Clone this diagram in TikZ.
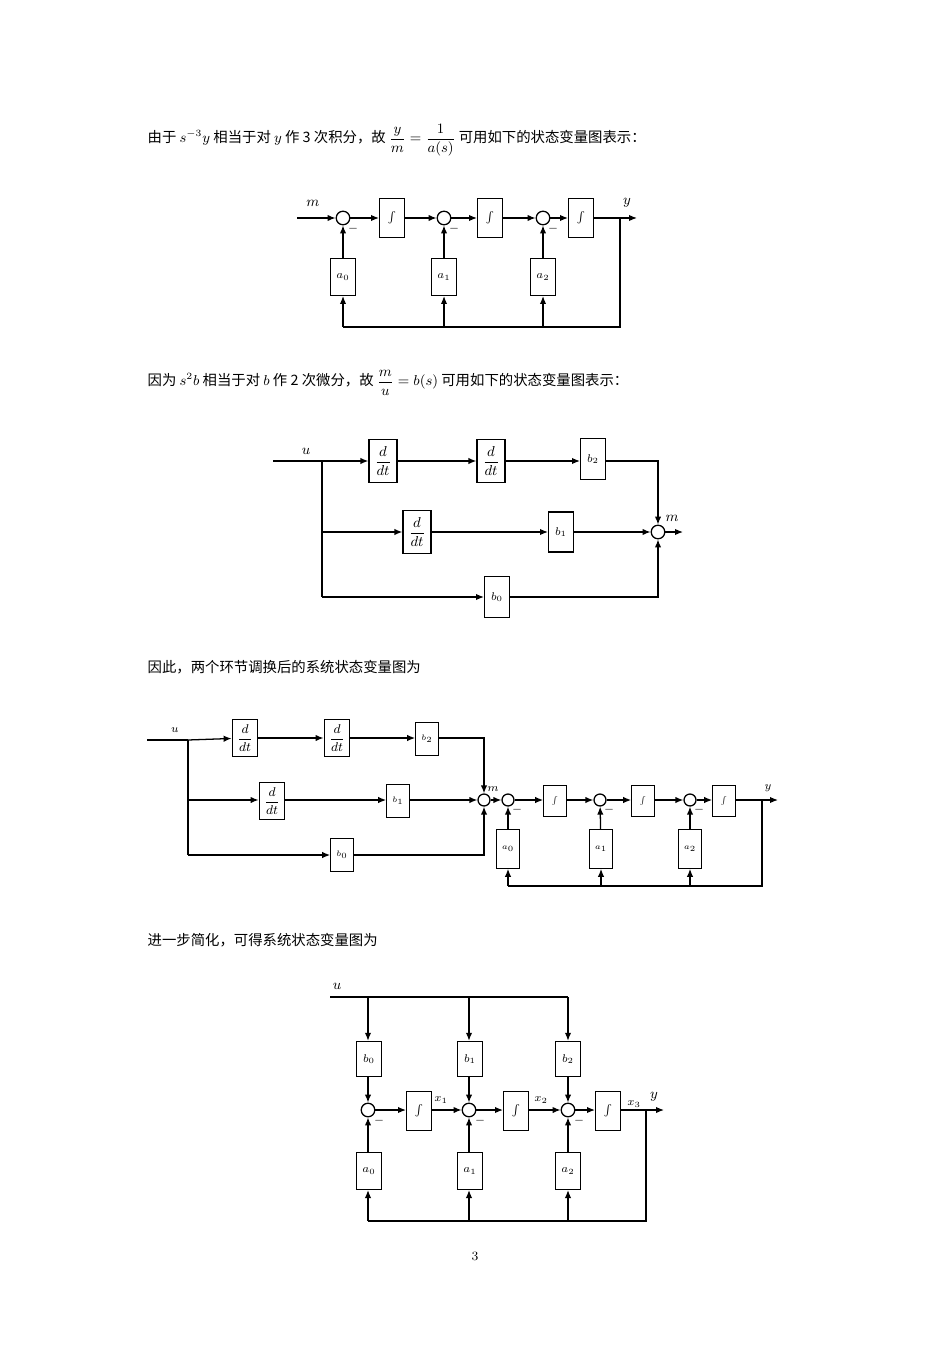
\documentclass[tikz,border=0pt]{standalone}
\usepackage{amsmath}
\usepackage{fontspec}
\newfontfamily\cjk{Noto Sans CJK SC}
\usetikzlibrary{arrows.meta}
\begin{document}
\begin{tikzpicture}[x=0.626pt,y=-0.626pt,
  line width=0.8pt,
  arr/.style={-{Latex[length=5pt,width=4pt]}},
  sumc/.style={draw,circle,minimum size=8.5pt,inner sep=0pt},
  intb/.style={draw,minimum width=15.5pt,minimum height=24pt,inner sep=0pt,font=\scriptsize},
  gb/.style={draw,minimum width=15.5pt,minimum height=23pt,inner sep=0pt,font=\scriptsize},
  db/.style={draw,minimum width=17.5pt,minimum height=27pt,inner sep=0pt,font=\small},
  sb/.style={draw,minimum width=14pt,minimum height=21pt,inner sep=0pt,font=\tiny},
  sdb/.style={draw,minimum width=16pt,minimum height=23pt,inner sep=0pt,font=\footnotesize},
  lbl/.style={inner sep=0pt,font=\small},
  txt/.style={inner sep=0pt,anchor=west,font=\cjk\fontsize{9}{11}\selectfont},
  mn/.style={inner sep=0pt,font=\scriptsize}]
\useasboundingbox (0,0) rectangle (950,1345);

% ---------- text 1
\node[txt] (t1) at (147,140) {由于 $s^{-3}y$ 相当于对 $y$ 作 3 次积分，故 $\dfrac{y}{m}=\dfrac{1}{a(s)}$ 可用如下的状态变量图表示：};

% ---------- diagram 1
\coordinate (m0) at (297,218);
\node[sumc] (s1) at (343,218) {};
\node[intb] (i1) at (392,218) {$\int$};
\node[sumc] (s2) at (444,218) {};
\node[intb] (i2) at (490,218) {$\int$};
\node[sumc] (s3) at (543,218) {};
\node[intb] (i3) at (581,218) {$\int$};
\coordinate (br1) at (620,218);
\coordinate (yo1) at (637,218);
\node[gb] (a0) at (343,277) {$a_0$};
\node[gb] (a1) at (444,277) {$a_1$};
\node[gb] (a2) at (543,277) {$a_2$};
\coordinate (q0) at (343,327); \coordinate (q1) at (444,327); \coordinate (q2) at (543,327);
\draw[arr] (m0) -- (s1); \draw[arr] (s1) -- (i1); \draw[arr] (i1) -- (s2);
\draw[arr] (s2) -- (i2); \draw[arr] (i2) -- (s3); \draw[arr] (s3) -- (i3);
\draw[arr] (i3) -- (yo1);
\draw (br1) |- (q0);
\draw[arr] (q0) -- (a0); \draw[arr] (q1) -- (a1); \draw[arr] (q2) -- (a2);
\draw[arr] (a0) -- (s1); \draw[arr] (a1) -- (s2); \draw[arr] (a2) -- (s3);
\node[lbl] (lm1) at (313,203) {$m$};
\node[lbl] (ly1) at (627,203) {$y$};
\node[mn] (n1) at (353,229) {$-$};
\node[mn] (n2) at (454,229) {$-$};
\node[mn] (n3) at (553,229) {$-$};

% ---------- text 2
\node[txt] (t2) at (147,383) {因为 $s^{2}b$ 相当于对 $b$ 作 2 次微分，故 $\dfrac{m}{u}=b(s)$ 可用如下的状态变量图表示：};

% ---------- diagram 2
\coordinate (u2) at (273,461);
\coordinate (bu2) at (322,461);
\node[db] (d1) at (383,461) {$\dfrac{d}{dt}$};
\node[db] (d2) at (491,461) {$\dfrac{d}{dt}$};
\node[gb,minimum height=26pt] (b2) at (593,459) {$b_2$};
\node[db] (d3) at (417,532) {$\dfrac{d}{dt}$};
\node[gb,minimum height=25pt] (b1) at (561,532) {$b_1$};
\node[gb,minimum height=26pt] (b0) at (497,597) {$b_0$};
\node[sumc] (sm) at (658,532) {};
\coordinate (mo) at (683,532);
\coordinate (c1) at (322,532); \coordinate (c0) at (322,597);
\draw (u2) -- (bu2);
\draw[arr] (bu2) -- (d1); \draw[arr] (d1) -- (d2); \draw[arr] (d2) -- (b2.west|-d2);
\draw (bu2) -- (c0);
\draw[arr] (c1) -- (d3); \draw[arr] (d3) -- (b1); \draw[arr] (b1) -- (sm);
\draw[arr] (c0) -- (b0);
\draw[arr] (b2.east|-d2) -| (sm);
\draw[arr] (b0) -| (sm);
\draw[arr] (sm) -- (mo);
\node[lbl] (lu2) at (306,451) {$u$};
\node[lbl] (lm2) at (672,518) {$m$};

% ---------- text 3
\node[txt] (t3) at (147,667) {因此，两个环节调换后的系统状态变量图为};

% ---------- diagram 3
\coordinate (u3) at (147,740);
\coordinate (bu3) at (188,740);
\node[sdb] (e1) at (245,738) {$\dfrac{d}{dt}$};
\node[sdb] (e2) at (337,738) {$\dfrac{d}{dt}$};
\node[sb] (f2) at (427,739) {$b_2$};
\node[sdb] (e3) at (272,801) {$\dfrac{d}{dt}$};
\node[sb] (f1) at (398,801) {$b_1$};
\node[sb] (f0) at (342,855) {$b_0$};
\node[sumc,minimum size=7.5pt] (sm3) at (484,800) {};
\coordinate (g1) at (188,800); \coordinate (g0) at (188,855);
\draw (u3) -- (bu3); \draw (bu3) -- (g0);
\draw[arr] (bu3) -- (e1); \draw[arr] (e1) -- (e2); \draw[arr] (e2) -- (f2.west|-e2);
\draw[arr] (g1) -- (e3.west|-g1); \draw[arr] (e3.east|-g1) -- (f1.west|-g1); \draw[arr] (f1.east|-g1) -- (sm3);
\draw[arr] (g0) -- (f0);
\draw[arr] (f2.east|-e2) -| (sm3);
\draw[arr] (f0) -| (sm3);
\node[sumc,minimum size=7.5pt] (r1) at (508,800) {};
\node[sb,minimum height=19pt] (j1) at (555,801) {$\int$};
\node[sumc,minimum size=7.5pt] (r2) at (600,800) {};
\node[sb,minimum height=19pt] (j2) at (643,801) {$\int$};
\node[sumc,minimum size=7.5pt] (r3) at (690,800) {};
\node[sb,minimum height=19pt] (j3) at (724,801) {$\int$};
\coordinate (br3) at (762,800); \coordinate (yo3) at (778,800);
\node[sb,minimum height=24pt] (h0) at (508,849) {$a_0$};
\node[sb,minimum height=24pt] (h1) at (601,849) {$a_1$};
\node[sb,minimum height=24pt] (h2) at (690,849) {$a_2$};
\coordinate (p0) at (508,886); \coordinate (p1) at (601,886); \coordinate (p2) at (690,886);
\draw[arr] (sm3) -- (r1); \draw[arr] (r1) -- (j1.west|-r1); \draw[arr] (j1.east|-r1) -- (r2);
\draw[arr] (r2) -- (j2.west|-r2); \draw[arr] (j2.east|-r2) -- (r3); \draw[arr] (r3) -- (j3.west|-r3);
\draw[arr] (j3.east|-r3) -- (yo3);
\draw (br3) |- (p0);
\draw[arr] (p0) -- (h0); \draw[arr] (p1) -- (h1); \draw[arr] (p2) -- (h2);
\draw[arr] (h0) -- (r1); \draw[arr] (h1) -- (r2); \draw[arr] (h2) -- (r3);
\node[lbl,font=\scriptsize] (lu3) at (175,730) {$u$};
\node[lbl,font=\scriptsize] (lm3) at (493,789) {$m$};
\node[lbl,font=\scriptsize] (ly3) at (768,788) {$y$};
\node[mn] (n4) at (517,810) {$-$};
\node[mn] (n5) at (609,810) {$-$};
\node[mn] (n6) at (699,810) {$-$};

% ---------- text 4
\node[txt] (t4) at (147,940) {进一步简化，可得系统状态变量图为};

% ---------- diagram 4
\coordinate (u4) at (330,997); \coordinate (uend) at (568,997);
\coordinate (k0) at (368,997); \coordinate (k1) at (469,997);
\node[gb,minimum height=22pt] (bb0) at (369,1059) {$b_0$};
\node[gb,minimum height=22pt] (bb1) at (470,1059) {$b_1$};
\node[gb,minimum height=22pt] (bb2) at (568,1059) {$b_2$};
\node[sumc] (z1) at (368,1110) {};
\node[sumc] (z2) at (469,1110) {};
\node[sumc] (z3) at (568,1110) {};
\node[intb] (w1) at (419,1111) {$\int$};
\node[intb] (w2) at (516,1111) {$\int$};
\node[intb] (w3) at (608,1111) {$\int$};
\coordinate (br4) at (646,1110); \coordinate (yo4) at (664,1110);
\node[gb] (aa0) at (369,1171) {$a_0$};
\node[gb] (aa1) at (470,1171) {$a_1$};
\node[gb] (aa2) at (568,1171) {$a_2$};
\coordinate (v0) at (368,1221); \coordinate (v1) at (469,1221); \coordinate (v2) at (568,1221);
\draw (u4) -- (uend);
\draw[arr] (k0) -- (k0|-bb0.north); \draw[arr] (k1) -- (k1|-bb1.north); \draw[arr] (uend) -- (bb2);
\draw[arr] (bb0.south-|z1) -- (z1); \draw[arr] (bb1.south-|z2) -- (z2); \draw[arr] (bb2) -- (z3);
\draw[arr] (z1) -- (w1.west|-z1); \draw[arr] (w1.east|-z1) -- (z2);
\draw[arr] (z2) -- (w2.west|-z2); \draw[arr] (w2.east|-z2) -- (z3);
\draw[arr] (z3) -- (w3.west|-z3); \draw[arr] (w3.east|-z3) -- (yo4);
\draw (br4) |- (v0);
\draw[arr] (v0) -- (aa0.south-|v0); \draw[arr] (v1) -- (aa1.south-|v1); \draw[arr] (v2) -- (aa2);
\draw[arr] (aa0.north-|z1) -- (z1); \draw[arr] (aa1.north-|z2) -- (z2); \draw[arr] (aa2) -- (z3);
\node[lbl] (lu4) at (337,986) {$u$};
\node[lbl,font=\scriptsize] (x1) at (441,1100) {$x_1$};
\node[lbl,font=\scriptsize] (x2) at (541,1100) {$x_2$};
\node[lbl,font=\scriptsize] (x3) at (634,1104) {$x_3$};
\node[lbl] (ly4) at (654,1097) {$y$};
\node[mn] (n7) at (379,1121) {$-$};
\node[mn] (n8) at (480,1121) {$-$};
\node[mn] (n9) at (579,1121) {$-$};

\node[inner sep=0pt,font=\footnotesize] (pg) at (475,1256) {3};
\end{tikzpicture}
\end{document}
